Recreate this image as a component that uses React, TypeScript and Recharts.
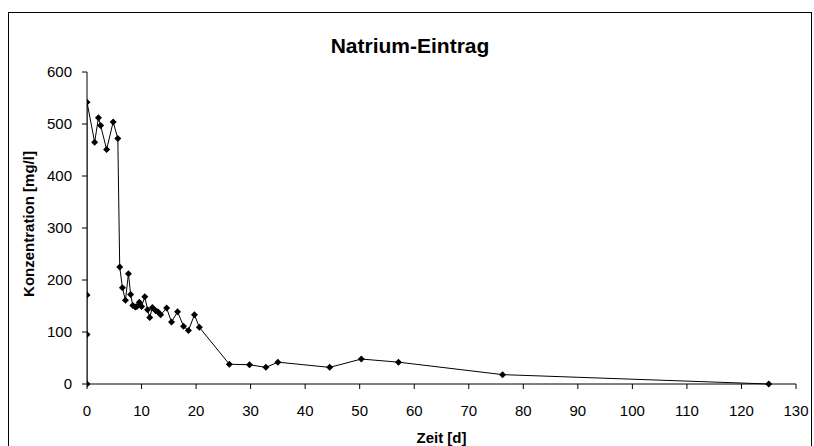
import React from 'react';
import { LineChart, Line, XAxis, YAxis } from 'recharts';

// Zeit [d]
const zeit = [
  0, 0, 0, 0, 1.4, 2.1, 2.5, 3.6, 4.8, 5.65, 6.0, 6.5, 7.05, 7.6, 8.0, 8.4, 8.85, 9.15, 9.6, 10.0,
  10.6, 11.1, 11.5, 12.0, 12.6, 13.0, 13.5, 14.6, 15.5, 16.6, 17.7, 18.6, 19.7, 20.6, 26.1, 29.8,
  32.8, 35.0, 44.5, 50.3, 57.1, 76.2, 125,
];
// Konzentration [mg/l]
const natrium = [
  0, 95, 171, 542, 465, 512, 497, 451, 504, 472, 225, 185, 161, 212, 172, 151, 148, 149, 157, 149,
  168, 143, 128, 147, 141, 139, 133, 146, 119, 139, 111, 103, 133, 109, 38, 37, 32, 42, 32, 48, 42,
  18, 0,
];
const xTicks = [0, 10, 20, 30, 40, 50, 60, 70, 80, 90, 100, 110, 120, 130];
const yTicks = [0, 100, 200, 300, 400, 500, 600];

const data = zeit.map((t, i) => ({ t, v: natrium[i] }));

const font = "'Liberation Sans', Arial, sans-serif";

const Diamond = (props: any) => {
  const { cx, cy, index } = props;
  if (cx == null || cy == null) return <g key={index} />;
  const s = 3.5;
  return (
    <polygon
      key={index}
      points={`${cx},${cy - s} ${cx + s},${cy} ${cx},${cy + s} ${cx - s},${cy}`}
      fill="#000"
    />
  );
};

const App = () => {
  return (
    <div style={{ position: 'absolute', left: 0, top: 0, width: 814, height: 446, overflow: 'hidden', background: '#fff', fontFamily: font }}>
      <div style={{ position: 'absolute', left: 8, top: 12, width: 802, height: 460, border: '1px solid #000' }} />
      <div style={{ position: 'absolute', left: 0, top: 35, width: 820, textAlign: 'center', fontSize: 21, lineHeight: '21px', fontWeight: 'bold' }}>
        Natrium-Eintrag
      </div>
      <div style={{ position: 'absolute', left: 28, top: 224, transform: 'translate(-50%, -50%) rotate(-90deg)', whiteSpace: 'nowrap', fontSize: 15, fontWeight: 'bold' }}>
        Konzentration [mg/l]
      </div>
      <div style={{ position: 'absolute', left: 0, top: 0 }}>
        <LineChart width={814} height={446} data={data} margin={{ top: 72, right: 18, bottom: 0, left: 0 }} style={{ fontFamily: font }}>
          <XAxis
            dataKey="t"
            type="number"
            domain={[0, 130]}
            ticks={xTicks}
            interval={0}
            height={62}
            tickSize={5}
            tickMargin={16}
            axisLine={{ stroke: '#000' }}
            tickLine={{ stroke: '#000' }}
            tick={{ fill: '#000', fontSize: 15 }}
            allowDataOverflow
            label={{ value: 'Zeit [d]', position: 'insideBottom', offset: 3, fill: '#000', fontSize: 15, fontWeight: 'bold' }}
          />
          <XAxis xAxisId="top" orientation="top" type="number" domain={[0, 130]} height={0} tick={false} tickLine={false} axisLine={{ stroke: '#808080' }} />
          <YAxis
            domain={[0, 600]}
            ticks={yTicks}
            interval={0}
            width={87}
            tickSize={5}
            tickMargin={10}
            axisLine={{ stroke: '#000' }}
            tickLine={{ stroke: '#000' }}
            tick={{ fill: '#000', fontSize: 15 }}
          />
          <YAxis yAxisId="right" orientation="right" domain={[0, 600]} width={0} tick={false} tickLine={false} axisLine={{ stroke: '#808080' }} />
          <Line
            type="linear"
            dataKey="v"
            stroke="#000"
            strokeWidth={1}
            dot={Diamond}
            activeDot={false}
            isAnimationActive={false}
          />
        </LineChart>
      </div>
    </div>
  );
};

export default App;
